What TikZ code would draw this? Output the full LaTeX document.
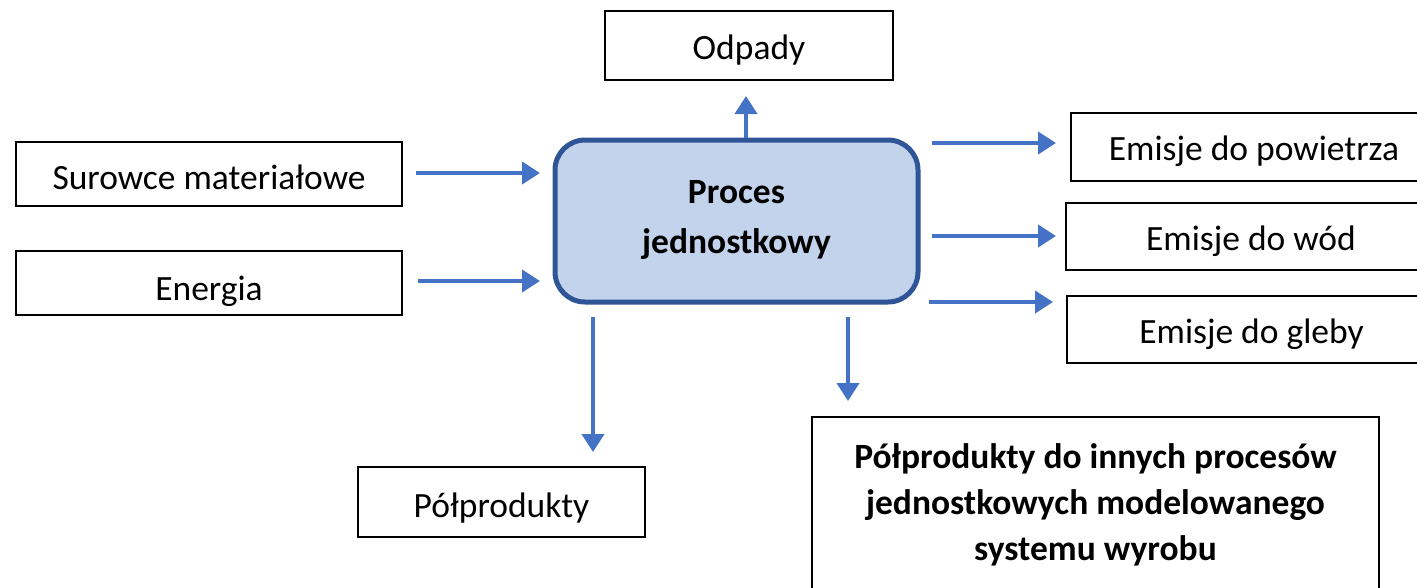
\documentclass[tikz,border=0pt]{standalone}
\usepackage{fontspec}
\setmainfont{Carlito}
\usetikzlibrary{arrows.meta,calc}
\definecolor{arrblue}{HTML}{4472C4}
\definecolor{procfill}{HTML}{C4D3EC}
\definecolor{procdraw}{HTML}{2F5597}
\newcommand{\shifttext}[2]{\raisebox{#1}[\height][\depth]{#2}}
\begin{document}
\begin{tikzpicture}[x=1pt,y=-1pt,
  box/.style={draw=black,line width=2.5pt,inner sep=0pt,outer sep=0pt,align=center,
    font=\fontsize{35.5}{46}\selectfont},
  boldbox/.style={box,font=\fontsize{35.5}{46}\selectfont\bfseries},
  procbox/.style={draw=procdraw,fill=procfill,line width=5pt,rounded corners=30pt,
    inner sep=0pt,outer sep=0pt,align=center,font=\fontsize{35.5}{50}\selectfont\bfseries},
  arr/.style={draw=arrblue,line width=4pt,-{Triangle[length=18pt,width=22pt]}}]
\useasboundingbox (0,0) rectangle (1417,587);
\clip (0,0) rectangle (1417,587);
\node[box,minimum width=288pt,minimum height=69pt] (odp) at (749,45.5) {\shifttext{-5pt}{Odpady}};
\node[box,minimum width=386pt,minimum height=64pt] (sur) at (209,174) {\shifttext{-3pt}{Surowce materiałowe}};
\node[box,minimum width=386pt,minimum height=64pt] (ene) at (209,283) {\shifttext{-8pt}{Energia}};
\node[procbox,minimum width=363pt,minimum height=162pt] (proc) at (736.5,221)
  {\shifttext{3pt}{\begin{tabular}{@{}c@{}}Proces\\jednostkowy\end{tabular}}};
\node[box,minimum width=366pt,minimum height=68pt] (pow) at (1254,147) {\shifttext{-4pt}{Emisje do powietrza}};
\node[box,minimum width=370pt,minimum height=67pt] (wod) at (1251,236.5) {\shifttext{-5pt}{Emisje do wód}};
\node[box,minimum width=369pt,minimum height=67pt] (gle) at (1251.5,329.5) {\shifttext{-5pt}{Emisje do gleby}};
\node[box,minimum width=287pt,minimum height=70pt] (pp) at (501.5,502) {\shifttext{-6pt}{Półprodukty}};
\node[boldbox,minimum width=567pt,minimum height=172pt] (big) at (1095.5,503)
  {\shifttext{-2.5pt}{\begin{tabular}{@{}c@{}}Półprodukty do innych procesów\\jednostkowych modelowanego\\systemu wyrobu\end{tabular}}};
\draw[arr,shorten <=14pt,shorten >=15pt] (sur.east|-0,173) -- (proc.west|-0,173);
\draw[arr,shorten <=16pt,shorten >=15pt] (ene.east|-0,281) -- (proc.west|-0,281);
\draw[arr,shorten <=2pt,shorten >=16pt] (proc.north-|746,0) -- (odp.south-|746,0);
\draw[arr,shorten <=14pt,shorten >=15pt] (proc.east|-0,143) -- (pow.west|-0,143);
\draw[arr,shorten <=14pt,shorten >=10pt] (proc.east|-0,236) -- (wod.west|-0,236);
\draw[arr,shorten <=11pt,shorten >=14pt] (proc.east|-0,302) -- (gle.west|-0,302);
\draw[arr,shorten <=15pt,shorten >=15pt] (proc.south-|593,0) -- (pp.north-|593,0);
\draw[arr,shorten <=15pt,shorten >=16pt] (proc.south-|848,0) -- (big.north-|848,0);
\end{tikzpicture}
\end{document}
